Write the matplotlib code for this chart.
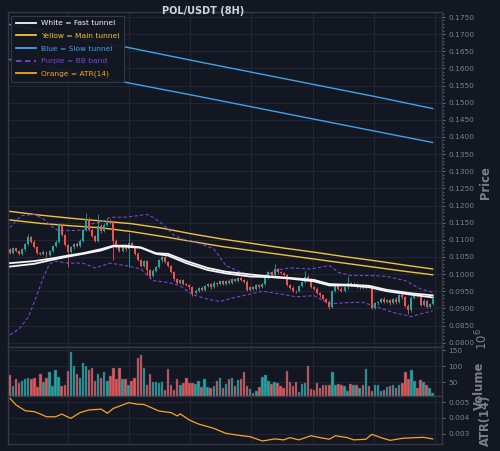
import matplotlib
matplotlib.use('Agg')
import matplotlib.pyplot as plt
import numpy as np
from matplotlib.ticker import MultipleLocator, AutoMinorLocator, FixedLocator, FormatStrFormatter
from matplotlib.lines import Line2D

# ---------------- data ----------------
first_open = 0.1072
closes = [
    0.1062, 0.1075, 0.1068, 0.1060, 0.1072, 0.1088, 0.1108, 0.1095, 0.1080, 0.1062,
    0.1058, 0.1065, 0.1055, 0.1068, 0.1082, 0.1095, 0.1145, 0.1115, 0.1085, 0.1065,
    0.1078, 0.1088, 0.1082, 0.1098, 0.1128, 0.1160, 0.1130, 0.1110, 0.1098, 0.1140,
    0.1125, 0.1142, 0.1155, 0.1150, 0.1098, 0.1080, 0.1068, 0.1085, 0.1072, 0.1090,
    0.1078, 0.1060, 0.1040, 0.1025, 0.1038, 0.1012, 0.0995, 0.1010, 0.1022, 0.1040,
    0.1050, 0.1035, 0.1025, 0.1005, 0.0985, 0.0975, 0.0982, 0.0972, 0.0968, 0.0962,
    0.0945, 0.0952, 0.0960, 0.0955, 0.0965, 0.0970, 0.0962, 0.0975, 0.0970, 0.0980,
    0.0972, 0.0980, 0.0975, 0.0985, 0.0980, 0.0988, 0.0983, 0.0978, 0.0955, 0.0962,
    0.0958, 0.0968, 0.0962, 0.0972, 0.0990, 0.1005, 0.0998, 0.1015, 0.1005, 0.1002,
    0.0998, 0.0968, 0.0960, 0.0952, 0.0950, 0.0965, 0.0978, 0.0992, 0.0985, 0.0962,
    0.0958, 0.0945, 0.0938, 0.0928, 0.0920, 0.0905, 0.0950, 0.0965, 0.0958, 0.0952,
    0.0962, 0.0975, 0.0968, 0.0972, 0.0962, 0.0968, 0.0960, 0.0965, 0.0962, 0.0902,
    0.0915, 0.0918, 0.0928, 0.0920, 0.0924, 0.0915, 0.0928, 0.0918, 0.0940, 0.0932,
    0.0908, 0.0895, 0.0930, 0.0942, 0.0938, 0.0910, 0.0922, 0.0905, 0.0912, 0.0928,
]
# upper / lower wick lengths in units of 0.0001
wick_up = [
    3, 4, 2, 3, 4, 3, 10, 3, 4, 2,
    3, 4, 2, 3, 4, 5, 5, 4, 3, 3,
    4, 3, 5, 4, 5, 18, 6, 4, 3, 35,
    5, 8, 10, 6, 5, 4, 3, 4, 3, 30,
    4, 3, 5, 3, 4, 4, 3, 4, 3, 5,
    4, 3, 4, 3, 5, 3, 4, 3, 3, 4,
    3, 4, 3, 4, 3, 4, 3, 4, 3, 3,
    4, 3, 5, 3, 4, 3, 4, 3, 5, 3,
    4, 3, 4, 3, 4, 5, 4, 15, 4, 3,
    4, 3, 3, 4, 3, 4, 3, 18, 4, 3,
    3, 4, 3, 4, 3, 4, 5, 3, 4, 3,
    4, 20, 3, 4, 3, 4, 3, 4, 3, 5,
    3, 4, 3, 4, 3, 4, 3, 4, 3, 4,
    3, 4, 5, 3, 4, 3, 4, 3, 4, 3,
]
wick_dn = [
    4, 3, 4, 3, 3, 4, 3, 4, 3, 4,
    3, 3, 4, 3, 3, 4, 3, 4, 3, 45,
    3, 4, 3, 3, 4, 3, 4, 3, 4, 3,
    4, 3, 3, 4, 58, 4, 4, 3, 5, 50,
    3, 4, 3, 4, 3, 15, 5, 4, 3, 3,
    4, 3, 4, 3, 4, 3, 4, 3, 4, 4,
    10, 3, 4, 3, 4, 3, 4, 3, 4, 3,
    3, 4, 3, 4, 3, 4, 3, 4, 4, 3,
    4, 3, 4, 3, 4, 3, 4, 3, 4, 3,
    3, 4, 3, 4, 5, 3, 4, 3, 4, 3,
    4, 3, 4, 3, 4, 8, 5, 3, 4, 3,
    3, 4, 3, 4, 3, 4, 3, 4, 3, 5,
    3, 4, 3, 4, 3, 4, 3, 4, 3, 4,
    3, 10, 6, 3, 4, 3, 4, 3, 4, 3,
]
volume_m = [
    72, 39, 61, 47, 54, 60, 65, 60, 65, 36, 77, 50, 63, 82, 38, 90, 67, 39, 41, 87,
    143, 101, 77, 63, 109, 101, 88, 96, 54, 77, 63, 83, 54, 71, 94, 60, 96, 60, 60, 43,
    55, 63, 126, 134, 94, 43, 77, 52, 52, 47, 50, 28, 92, 41, 28, 60, 41, 47, 65, 47,
    47, 45, 54, 36, 60, 36, 33, 39, 55, 65, 34, 45, 60, 65, 38,
    58, 61, 82, 38, 30, 17, 25, 36, 67, 74, 55, 45, 52, 47, 38, 34, 87, 50, 39, 50,
    20, 45, 47, 101, 30, 28, 47, 34, 43, 43, 43, 82, 41, 45, 43, 39, 22, 45, 41, 43,
    33, 43, 92, 38, 25, 41, 41, 25, 27, 36, 39, 41, 34, 43, 48, 82, 60, 90, 55, 34,
    58, 52, 41, 33, 17,
]

white_idx = [0, 8, 14, 19, 24, 30, 34, 38, 43, 48, 52, 58, 65, 71, 79, 86, 92, 100, 105, 111, 118, 124, 132, 139]
white_fast = [0.1032, 0.1038, 0.1046, 0.1054, 0.1061, 0.1073, 0.1083, 0.1083, 0.1078, 0.1061, 0.1059, 0.1038,
              0.1018, 0.1007, 0.0999, 0.0993, 0.0989, 0.0983, 0.0971, 0.0969, 0.0966, 0.0954, 0.0944, 0.0938]
white_slow = [0.1022, 0.1030, 0.1042, 0.1051, 0.1059, 0.1069, 0.1081, 0.1080, 0.1077, 0.1059, 0.1054, 0.1032,
              0.1012, 0.1002, 0.0993, 0.0991, 0.0987, 0.0979, 0.0967, 0.0967, 0.0962, 0.0950, 0.0940, 0.0932]

yellow_idx = [0, 10, 20, 30, 40, 50, 60, 70, 80, 90, 100, 110, 120, 130, 139]
yellow_upper = [0.1183, 0.1172, 0.1163, 0.1155, 0.1147, 0.1134, 0.1117, 0.1102, 0.1089, 0.1076, 0.1064,
                0.1051, 0.1039, 0.1026, 0.1015]
yellow_lower = [0.1158, 0.1148, 0.1141, 0.1135, 0.1124, 0.1110, 0.1095, 0.1080, 0.1068, 0.1056, 0.1044,
                0.1032, 0.1020, 0.1008, 0.0998]

blue_idx = [0, 20, 40, 60, 80, 100, 120, 139]
blue_upper = [0.1728, 0.1693, 0.1659, 0.1623, 0.1588, 0.1553, 0.1518, 0.1483]
blue_lower = [0.1626, 0.1591, 0.1556, 0.1522, 0.1487, 0.1452, 0.1417, 0.1384]

bb_up_idx = [0, 2, 4, 8, 11, 14, 16, 20, 25, 27, 30, 33, 38, 45, 47, 50, 54, 58, 62, 67, 69, 71, 76, 79, 83,
             88, 92, 99, 105, 108, 112, 118, 124, 130, 135, 139]
bb_upper = [0.1135, 0.1157, 0.1171, 0.1174, 0.1161, 0.1137, 0.1127, 0.1127, 0.1129, 0.1147, 0.1152, 0.1166,
            0.1166, 0.1174, 0.1166, 0.1147, 0.1113, 0.1098, 0.1090, 0.1074, 0.1049, 0.1025, 0.1005, 0.0998,
            0.0993, 0.1012, 0.1018, 0.1015, 0.1025, 0.1005, 0.0996, 0.0996, 0.0993, 0.0981, 0.0957, 0.0947]
bb_lo_idx = [0, 3, 6, 9, 11, 13, 15, 19, 24, 28, 33, 38, 43, 47, 52, 56, 60, 65, 69, 73, 78, 83, 89, 94, 100,
             105, 111, 116, 121, 126, 132, 135, 139]
bb_lower = [0.0823, 0.0840, 0.0874, 0.0942, 0.0991, 0.1030, 0.1038, 0.1032, 0.1032, 0.1018, 0.1032, 0.1025,
            0.1015, 0.0981, 0.0976, 0.0966, 0.0940, 0.0927, 0.0920, 0.0930, 0.0940, 0.0950, 0.0942, 0.0934,
            0.0937, 0.0913, 0.0917, 0.0918, 0.0903, 0.0888, 0.0876, 0.0884, 0.0893]

atr_idx = [0, 2, 5, 8, 10, 12, 15, 17, 20, 23, 26, 30, 32, 34, 36, 39, 42, 44, 47, 49, 53, 55, 56, 59, 62,
           67, 71, 76, 79, 83, 87, 90, 92, 95, 99, 102, 105, 107, 111, 113, 117, 119, 122, 125, 129, 133, 136, 139]
atr_vals = [0.00523, 0.00481, 0.00445, 0.00439, 0.00424, 0.00407, 0.00407, 0.00424, 0.00397, 0.00433,
            0.00450, 0.00455, 0.00429, 0.00460, 0.00474, 0.00496, 0.00486, 0.00485, 0.00460, 0.00443,
            0.00433, 0.00412, 0.00425, 0.00386, 0.00361, 0.00334, 0.00302, 0.00288, 0.00281, 0.00254,
            0.00267, 0.00261, 0.00275, 0.00261, 0.00287, 0.00275, 0.00265, 0.00287, 0.00275, 0.00261,
            0.00265, 0.00296, 0.00275, 0.00258, 0.00271, 0.00275, 0.00277, 0.00267]

legend_labels = ['White = Fast tunnel', 'Yellow = Main tunnel', 'Blue = Slow tunnel',
                 'Purple = BB band', 'Orange = ATR(14)']
title_text = 'POL/USDT (8H)'

# ---------------- style ----------------
BG = '#131722'
GRID = '#232735'
SPINE = '#363a45'
TXT = '#7d808b'
UP = '#26a69a'
DN = '#ef5350'
C_WHITE = '#f4f4f4'
C_YEL = '#f2c23b'
C_BLUE = '#3fa2ef'
C_PUR = '#7447d6'
C_ORA = '#f5a623'

n = len(closes)
x = np.arange(n)
closes_a = np.array(closes)
opens_a = np.array([first_open] + closes[:-1])
hi_a = np.maximum(opens_a, closes_a) + np.array(wick_up) * 1e-4
lo_a = np.minimum(opens_a, closes_a) - np.array(wick_dn) * 1e-4
up_mask = closes_a >= opens_a
colors = np.where(up_mask, UP, DN)

fig = plt.figure(figsize=(5, 4.51), dpi=100, facecolor=BG)
L, W = 8 / 500, 434 / 500
def fy(px):
    return 1 - px / 451
ax = fig.add_axes([L, fy(347), W, fy(12) - fy(347)])
axv = fig.add_axes([L, fy(396), W, fy(347) - fy(396)], sharex=ax)
axa = fig.add_axes([L, fy(444), W, fy(396) - fy(444)], sharex=ax)

for a in (ax, axv, axa):
    a.set_facecolor(BG)
    for s in a.spines.values():
        s.set_color(SPINE)
        s.set_linewidth(1.0)
    a.yaxis.tick_right()
    a.yaxis.set_label_position('right')
    a.tick_params(axis='y', colors=TXT, labelsize=5.3, length=2.5, width=0.6, pad=2)
    a.tick_params(axis='y', which='minor', colors=TXT, length=1.5, width=0.5)
    a.tick_params(axis='x', length=0, labelbottom=False)
    a.xaxis.set_major_locator(FixedLocator([19.1 + 20.1 * k for k in range(7)]))
    a.grid(True, color=GRID, linewidth=0.7)
    a.set_axisbelow(True)
ax.set_xlim(-0.66, 142.06)

# ---- main price panel ----
ax.plot(blue_idx, blue_upper, color=C_BLUE, lw=1.0, zorder=3)
ax.plot(blue_idx, blue_lower, color=C_BLUE, lw=1.0, zorder=3)
ax.plot(yellow_idx, yellow_upper, color=C_YEL, lw=1.0, zorder=3)
ax.plot(yellow_idx, yellow_lower, color=C_YEL, lw=1.0, zorder=3)
ax.plot(bb_up_idx, bb_upper, color=C_PUR, lw=0.8, ls=(0, (3, 2)), zorder=3)
ax.plot(bb_lo_idx, bb_lower, color=C_PUR, lw=0.8, ls=(0, (3, 2)), zorder=3)
ax.vlines(x, lo_a, hi_a, colors=colors, lw=0.6, zorder=4)
body_h = np.maximum(np.abs(closes_a - opens_a), 0.00008)
ax.bar(x, body_h, bottom=np.minimum(opens_a, closes_a), width=0.65, color=colors, linewidth=0, zorder=5)
ax.plot(white_idx, white_slow, color=C_WHITE, lw=1.3, zorder=6)
ax.plot(white_idx, white_fast, color=C_WHITE, lw=1.3, zorder=6)

ax.set_ylim(0.07874, 0.17646)
ax.yaxis.set_major_locator(MultipleLocator(0.005))
ax.yaxis.set_minor_locator(AutoMinorLocator(5))
ax.yaxis.set_major_formatter(FormatStrFormatter('%.4f'))
ax.set_ylabel('Price', color=TXT, fontsize=8.3, fontweight='bold')
ax.yaxis.set_label_coords((479 - 8) / 434, 0.49)

handles = [Line2D([], [], color=C_WHITE, lw=1.3),
           Line2D([], [], color=C_YEL, lw=1.3),
           Line2D([], [], color=C_BLUE, lw=1.3),
           Line2D([], [], color=C_PUR, lw=1.3, ls=(0, (3, 2))),
           Line2D([], [], color=C_ORA, lw=1.3)]
leg = ax.legend(handles, legend_labels, loc='upper left', bbox_to_anchor=(0.007, 0.989),
                borderaxespad=0, fontsize=5.4, labelcolor=[C_WHITE, C_YEL, C_BLUE, C_PUR, C_ORA],
                facecolor=BG, edgecolor=SPINE, framealpha=0.95, handlelength=2.7,
                handletextpad=0.75, labelspacing=0.85, borderpad=0.6, fancybox=True)
leg.set_zorder(10)
leg.get_frame().set_linewidth(0.8)

# ---- volume panel ----
vol = np.array(volume_m)
axv.bar(x, vol, width=0.8, color=colors, edgecolor='#2a4c6e', linewidth=0.35, zorder=3)
axv.set_ylim(8, 160)
axv.yaxis.set_major_locator(FixedLocator([50, 100, 150]))
axv.set_ylabel('Volume', color=TXT, fontsize=8.3, fontweight='bold')
axv.yaxis.set_label_coords((473 - 8) / 434, 0.2)

# ---- ATR panel ----
axa.plot(atr_idx, atr_vals, color=C_ORA, lw=0.9, zorder=3)
axa.set_ylim(0.00235, 0.00538)
axa.yaxis.set_major_locator(FixedLocator([0.003, 0.004, 0.005]))
axa.yaxis.set_major_formatter(FormatStrFormatter('%.3f'))
axa.set_ylabel('ATR(14)', color=TXT, fontsize=8.3, fontweight='bold')
axa.yaxis.set_label_coords((479 - 8) / 434, 0.5)

fig.text(482 / 500, fy(339), r'$10^{6}$', rotation=90, color=TXT, fontsize=8.5, ha='center', va='center')
fig.text(203 / 500, fy(11), title_text, color='#d1d4dc', fontsize=7, fontweight='bold', ha='center', va='center')

fig.savefig('out.png', dpi=100, facecolor=BG)
